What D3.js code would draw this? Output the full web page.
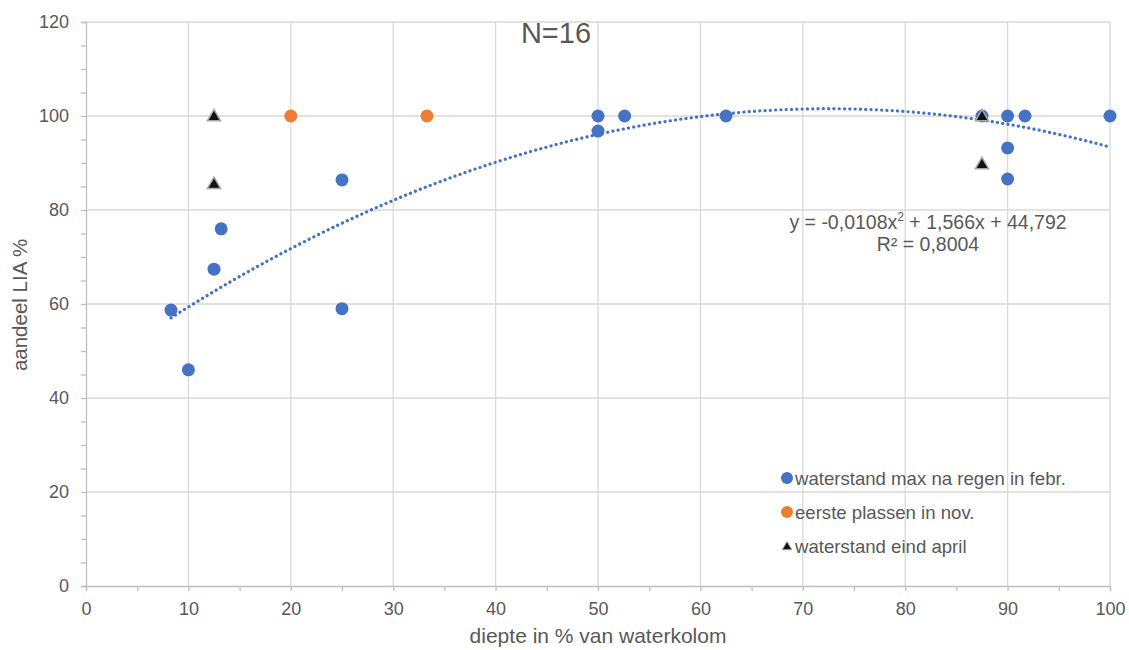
<!DOCTYPE html>
<html><head><meta charset="utf-8">
<script src="https://cdn.jsdelivr.net/npm/d3@7"></script>
<style>
body{margin:0;background:#fff;}
text{font-family:"Liberation Sans",Arial,sans-serif;fill:#595959;}
</style></head>
<body><svg id="c" width="1129" height="650"></svg>
<script>
// Data
const blueX = [8.3, 10, 12.5, 13.2, 25, 25, 50, 50, 52.6, 62.5, 87.5, 90, 90, 90, 91.7, 100];
const blueY = [58.7, 46, 67.4, 76, 86.4, 59, 100, 96.8, 100, 100, 100, 100, 93.2, 86.6, 100, 100];
const orangeX = [20, 33.3];
const orangeY = [100, 100];
const triX = [12.5, 12.5, 87.5, 87.5];
const triY = [100, 85.6, 100, 89.8];
const trendCoef = [-0.0108, 1.566, 44.792]; // a, b, c of displayed fit
const trendRange = [8.3, 100];
const xTicks = [0,10,20,30,40,50,60,70,80,90,100];
const yTicks = [0,20,40,60,80,100,120];
const seriesNames = ["waterstand max na regen in febr.", "eerste plassen in nov.", "waterstand eind april"];

const svg = d3.select("#c");
const x = d3.scaleLinear().domain([0,100]).range([86,1110]);
const y = d3.scaleLinear().domain([0,120]).range([586,22]);
const grid = "#d9d9d9", axisC = "#bfbfbf";
const FF = "'Liberation Sans',Arial,sans-serif";

// gridlines
svg.append("g").selectAll("line").data(xTicks.slice(1)).join("line")
  .attr("x1",d=>x(d)).attr("x2",d=>x(d)).attr("y1",y(0)).attr("y2",y(120))
  .attr("stroke",grid).attr("stroke-width",1.3);
svg.append("g").selectAll("line").data(yTicks.slice(1)).join("line")
  .attr("x1",x(0)).attr("x2",x(100)).attr("y1",d=>y(d)).attr("y2",d=>y(d))
  .attr("stroke",grid).attr("stroke-width",1.3);

// axes
const xAxis = d3.axisBottom(x).tickValues(d3.range(0,101,5)).tickSize(5).tickFormat(d=> d%10===0? d : "");
const gx = svg.append("g").attr("transform",`translate(0,${y(0)})`).call(xAxis);
gx.select(".domain").attr("stroke",axisC).attr("stroke-width",1.3);
gx.selectAll(".tick line").attr("stroke",axisC).attr("stroke-width",1.3);
gx.selectAll(".tick text").attr("font-size",18).attr("fill","#595959").attr("y",16).attr("dy","0.71em")
  .style("font-family",FF);

const yAxis = d3.axisLeft(y).tickValues(d3.range(0,121,5)).tickSize(5).tickFormat(d=> d%20===0? d : "");
const gy = svg.append("g").attr("transform",`translate(${x(0)},0)`).call(yAxis);
gy.select(".domain").attr("stroke",axisC).attr("stroke-width",1.3);
gy.selectAll(".tick line").attr("stroke",axisC).attr("stroke-width",1.3);
gy.selectAll(".tick text").attr("font-size",18).attr("fill","#595959").attr("x",-17)
  .style("font-family",FF);

// trendline
const [ta,tb,tc] = trendCoef;
const tx = d3.range(trendRange[0], trendRange[1]+0.001, 0.5);
if (tx[tx.length-1] < trendRange[1]) tx.push(trendRange[1]);
svg.append("path").datum(tx)
  .attr("d", d3.line().x(d=>x(d)).y(d=>y(ta*d*d+tb*d+tc)).curve(d3.curveMonotoneX))
  .attr("fill","none").attr("stroke","#4472c4").attr("stroke-width",3.2)
  .attr("stroke-linecap","round").attr("stroke-dasharray","0.1 5.2");

// markers
const blue = "#4472c4", orange = "#ed7d31";
svg.append("g").selectAll("circle").data(d3.range(blueX.length)).join("circle")
  .attr("cx",i=>x(blueX[i])).attr("cy",i=>y(blueY[i])).attr("r",6.5).attr("fill",blue);
svg.append("g").selectAll("circle").data(d3.range(orangeX.length)).join("circle")
  .attr("cx",i=>x(orangeX[i])).attr("cy",i=>y(orangeY[i])).attr("r",6.5).attr("fill",orange);
const tri = d3.symbol().type(d3.symbolTriangle).size(75);
svg.append("g").selectAll("path").data(d3.range(triX.length)).join("path")
  .attr("d",tri).attr("transform",i=>`translate(${x(triX[i])},${y(triY[i])+1})`)
  .attr("fill","#111").attr("stroke","#a6a6a6").attr("stroke-width",1.5);

// titles
svg.append("text").attr("x",556).attr("y",43).attr("text-anchor","middle").attr("font-size",29).text("N=16");
svg.append("text").attr("x",598).attr("y",643).attr("text-anchor","middle").attr("font-size",21).text("diepte in % van waterkolom");
svg.append("text").attr("transform","translate(27,305) rotate(-90)").attr("text-anchor","middle").attr("font-size",20.5).text("aandeel LIA %");

// equation
const eq = svg.append("text").attr("x",928).attr("y",229).attr("text-anchor","middle").attr("font-size",19.5);
eq.append("tspan").text("y = -0,0108x");
eq.append("tspan").attr("font-size",12).attr("dy",-8).text("2");
eq.append("tspan").attr("dy",8).text(" + 1,566x + 44,792");
svg.append("text").attr("x",928).attr("y",251).attr("text-anchor","middle").attr("font-size",19.5).text("R² = 0,8004");

// legend
const lg = svg.append("g");
const ly = [478, 512, 546];
lg.append("circle").attr("cx",787).attr("cy",ly[0]).attr("r",6).attr("fill",blue);
lg.append("circle").attr("cx",787).attr("cy",ly[1]).attr("r",6).attr("fill",orange);
lg.append("path").attr("d",d3.symbol().type(d3.symbolTriangle).size(40)).attr("transform",`translate(787,${ly[2]+1})`)
  .attr("fill","#111").attr("stroke","#a6a6a6").attr("stroke-width",1);
seriesNames.forEach((n,i)=>{
  lg.append("text").attr("x",795).attr("y",ly[i]+7).attr("font-size",18.6).text(n);
});
</script></body></html>
